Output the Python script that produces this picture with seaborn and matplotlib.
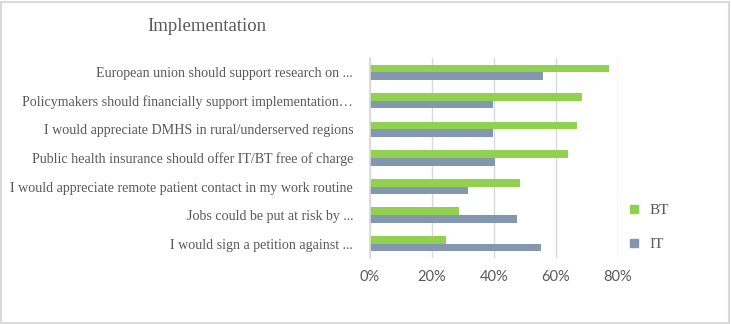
import pandas as pd
import matplotlib.pyplot as plt
import seaborn as sns
from matplotlib.lines import Line2D
from matplotlib.patches import Rectangle
from matplotlib.ticker import PercentFormatter

# Data (share of respondents agreeing)
statements = [
    'European union should support research on ...',
    'Policymakers should financially support implementation\u2026',
    'I would appreciate DMHS in rural/underserved regions',
    'Public health insurance should offer IT/BT free of charge',
    'I would appreciate remote patient contact in my work routine',
    'Jobs could be put at risk by ...',
    'I would sign a petition against ...',
]
bt_values = [0.772, 0.685, 0.668, 0.641, 0.483, 0.288, 0.245]
it_values = [0.560, 0.398, 0.398, 0.405, 0.318, 0.474, 0.553]
groups = ['BT', 'IT']
colors = {'BT': '#92D050', 'IT': '#8497B0'}

df = pd.DataFrame({
    'Statement': statements * 2,
    'Group': ['BT'] * len(statements) + ['IT'] * len(statements),
    'Share': bt_values + it_values,
})

sns.set_theme(style='white')
text_grey = '#595959'

fig = plt.figure(figsize=(7.31, 3.24), dpi=100)
ax = fig.add_axes([0.506, 0.204, 0.339, 0.617])

sns.barplot(data=df, x='Share', y='Statement', hue='Group', hue_order=groups,
            palette=colors, order=statements, orient='h', width=0.53,
            saturation=1, linewidth=0, legend=False, ax=ax)

ax.set_xlim(0, 0.8)
ax.set_xticks([0, 0.2, 0.4, 0.6, 0.8])
ax.xaxis.set_major_formatter(PercentFormatter(1.0, decimals=0))
ax.grid(axis='x', color='#d9d9d9', linewidth=1)
ax.set_axisbelow(True)
for side in ['top', 'right', 'bottom']:
    ax.spines[side].set_visible(False)
ax.spines['left'].set_color('#d9d9d9')
ax.set_xlabel('')
ax.set_ylabel('')
ax.tick_params(axis='both', length=0)
ax.tick_params(axis='x', pad=9)
ax.tick_params(axis='y', pad=12)

for lbl in ax.get_xticklabels():
    lbl.set_fontfamily('Lato')
    lbl.set_fontsize(10.5)
    lbl.set_color(text_grey)
for lbl in ax.get_yticklabels():
    lbl.set_fontfamily('Liberation Serif')
    lbl.set_fontsize(10.1)
    lbl.set_color(text_grey)

fig.text(0.283, 0.918, 'Implementation', ha='center', va='center',
         fontsize=13.5, family='Liberation Serif', color=text_grey)

handles = [Line2D([], [], marker='s', linestyle='', markersize=5.5,
                  color=colors[g]) for g in groups]
fig.legend(handles, groups, loc='center left', bbox_to_anchor=(0.828, 0.298),
           frameon=False, handletextpad=0.0, labelspacing=1.35,
           prop={'family': 'Liberation Serif', 'size': 11}, labelcolor=text_grey)

fig.patches.append(Rectangle((0.002, 0.004), 0.995, 0.99, transform=fig.transFigure,
                             fill=False, edgecolor='#d9d9d9', linewidth=1.5))

fig.savefig('out.png', dpi=100)
